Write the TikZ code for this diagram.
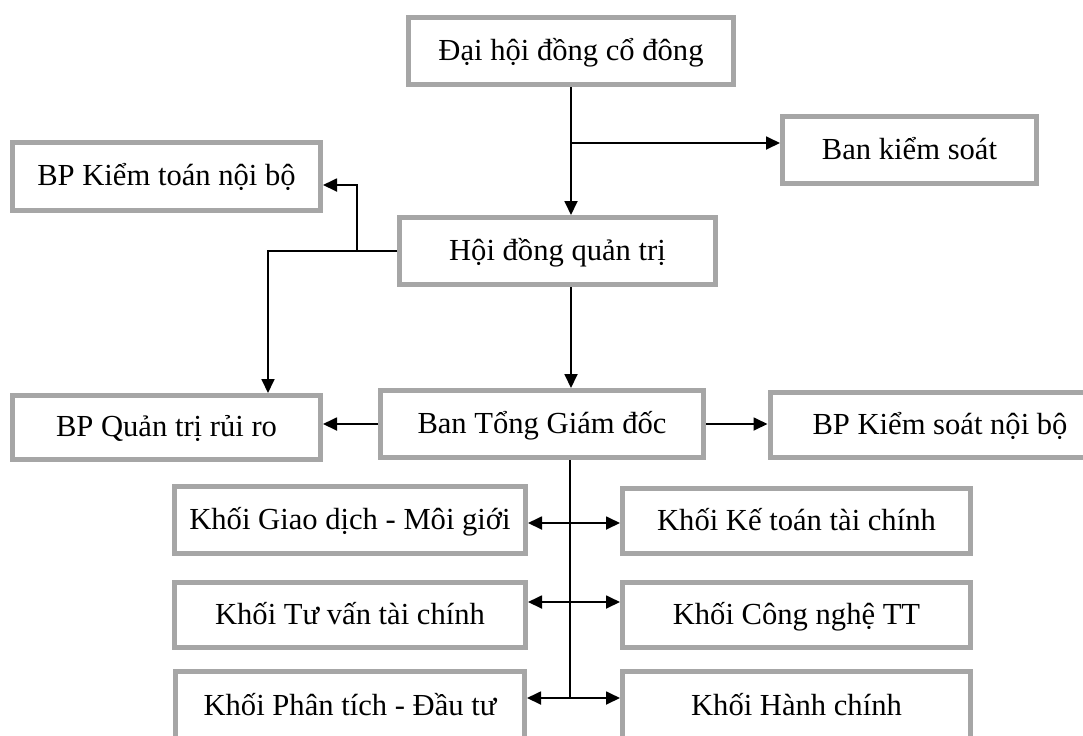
\documentclass[tikz,border=0pt]{standalone}
\usepackage{fontspec}
\setmainfont{Liberation Serif}
\usetikzlibrary{arrows.meta}
\definecolor{boxgray}{RGB}{166,166,166}

\begin{document}
\begin{tikzpicture}[x=0.5pt,y=-0.5pt,
    orgbox/.style={draw=boxgray,line width=2.5pt,fill=white,inner sep=0pt,
        text height=12pt,text depth=3pt,
        minimum height=33pt,font=\fontsize{15.3}{18}\selectfont},
    conn/.style={line width=0.9pt,-{Triangle[length=7pt,width=6.5pt]}},
    dconn/.style={line width=0.9pt,{Triangle[length=7pt,width=6.5pt]}-{Triangle[length=7pt,width=6.5pt]}}]
        \useasboundingbox (0,0) rectangle (1083,735);

        % Top levels
        \node[orgbox,minimum width=162.5pt,minimum height=33.5pt] (dhdcd) at (571,51) {Đại hội đồng cổ đông};
        \node[orgbox,minimum width=127pt,minimum height=33.5pt] (bks) at (909.5,150) {Ban kiểm soát};
        \node[orgbox,minimum width=154pt,minimum height=34pt] (bpkt) at (166.5,176.5) {BP Kiểm toán nội bộ};
        \node[orgbox,minimum width=158pt,minimum height=33.5pt] (hdqt) at (557.5,251) {Hội đồng quản trị};

        % Executive level
        \node[orgbox,minimum width=154pt,minimum height=32pt] (bpqt) at (166.5,427.5) {BP Quản trị rủi ro};
        \node[orgbox,minimum width=161.5pt,minimum height=33.5pt] (tgd) at (542,424) {Ban Tổng Giám đốc};
        \node[orgbox,minimum width=170pt,minimum height=32.5pt] (bpks) at (940,425) {BP Kiểm soát nội bộ};

        % Divisions
        \node[orgbox,minimum width=175.5pt,minimum height=33.5pt] (gd) at (350,520) {Khối Giao dịch - Môi giới};
        \node[orgbox,minimum width=174pt,minimum height=32.5pt] (kt) at (796.5,521) {Khối Kế toán tài chính};
        \node[orgbox,minimum width=175.5pt,minimum height=32.5pt] (tv) at (350,615) {Khối Tư vấn tài chính};
        \node[orgbox,minimum width=174pt,minimum height=32.5pt] (cn) at (796.5,615) {Khối Công nghệ TT};
        \node[orgbox,minimum width=174.5pt,minimum height=35pt] (pt) at (350,706) {Khối Phân tích - Đầu tư};
        \node[orgbox,minimum width=174pt,minimum height=35pt] (hc) at (796.5,706) {Khối Hành chính};

        % Junctions
        \coordinate (j1) at (570,143);
        \coordinate (k1) at (268,251);
        \coordinate (k2) at (357,251);
        \coordinate (k3) at (357,185);
        \coordinate (r1) at (570,523);
        \coordinate (r2) at (570,602);
        \coordinate (r3) at (570,698);

        % Connectors
        \draw[conn] (dhdcd.south) -- (dhdcd.south |- hdqt.north);
        \draw[conn] (j1) -- (j1 -| bks.west);
        \draw[conn] (hdqt.west) -- (k1) -- (k1 |- bpqt.north);
        \draw[conn] (k2) -- (k3) -- (k3 -| bpkt.east);
        \draw[conn] (hdqt.south -| dhdcd.south) -- (tgd.north -| dhdcd.south);
        \draw[conn] (tgd.west) -- (bpqt.east |- tgd.west);
        \draw[conn] (tgd.east) -- (bpks.west |- tgd.east);
        \draw[line width=0.9pt] (tgd.south -| r3) -- (r3);
        \draw[dconn] (gd.east |- r1) -- (kt.west |- r1);
        \draw[dconn] (tv.east |- r2) -- (cn.west |- r2);
        \draw[dconn] (pt.east |- r3) -- (hc.west |- r3);
    \end{tikzpicture}
\end{document}
